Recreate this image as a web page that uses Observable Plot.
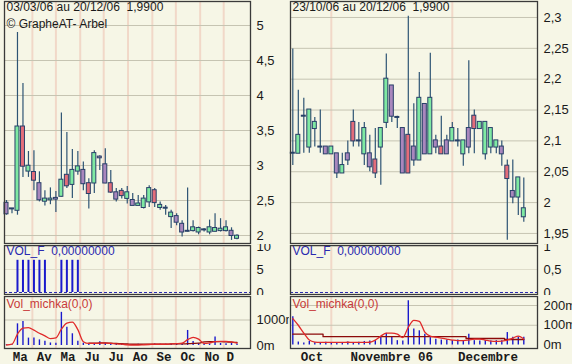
<!DOCTYPE html>
<html><head><meta charset="utf-8">
<script src="https://cdn.jsdelivr.net/npm/d3@7"></script>
<script src="https://cdn.jsdelivr.net/npm/@observablehq/plot@0.6"></script>
<style>
html,body{margin:0;padding:0;background:#f6f6e6;}
#chart{position:relative;width:572px;height:364px;background:#f6f6e6;overflow:hidden;}
</style></head><body><div id="chart"></div>
<script>
// ---------- LEFT: weekly candles 03/03/06 -> 20/12/06 ----------
const leftTitle = "03/03/06 au 20/12/06  1,9900";
const leftCopyright = "\u00A9 GrapheAT- Arbel";
const leftOpen  = [2.46,2.38,2.36,3.55,2.92,2.90,2.74,2.49,2.51,2.53,2.56,2.86,2.73,2.92,2.93,2.74,2.75,3.12,3.01,2.74,2.61,2.63,2.53,2.50,2.43,2.40,2.48,2.64,2.40,2.39,2.27,2.27,2.16,2.06,2.07,2.05,2.08,2.05,2.06,2.07,2.07,2.06,1.96];
const leftHigh  = [2.50,2.38,4.90,4.17,3.20,3.21,2.91,2.64,2.68,2.63,3.75,3.47,3.23,3.20,3.05,2.81,3.21,3.14,3.24,2.93,2.67,2.67,2.70,2.60,2.57,2.57,2.71,2.67,2.48,2.43,2.36,2.31,2.21,2.68,2.21,2.12,2.10,2.22,2.31,2.24,2.21,2.11,2.01];
const leftLow   = [2.29,2.31,2.29,2.83,2.83,2.64,2.48,2.42,2.44,2.33,2.55,2.67,2.53,2.86,2.64,2.38,2.60,2.93,2.74,2.60,2.48,2.52,2.45,2.43,2.43,2.38,2.40,2.40,2.36,2.29,2.10,2.14,1.98,2.05,2.05,2.01,2.05,2.01,2.05,2.05,2.05,1.93,1.94];
const leftClose = [2.31,2.38,3.55,2.99,2.99,2.79,2.51,2.52,2.52,2.52,2.79,2.71,2.93,2.98,2.74,2.60,3.17,3.11,2.75,2.62,2.52,2.57,2.61,2.43,2.45,2.52,2.67,2.47,2.43,2.39,2.32,2.19,2.05,2.06,2.11,2.10,2.08,2.11,2.10,2.09,2.11,2.00,1.99];
const leftKind  = ["p","p","g","r","g","r","p","g","g","p",
                   "g","r","g","g","p","r","g","p","p","r",
                   "p","r","g","p","g","g","g","r","g","g",
                   "g","p","p","g","g","g","g","g","g","g",
                   "g","p","g"];
const leftVolF  = [0,0,7,7,7,7,7,7,0,0,7,7,7,7,0,0,0,0,0,0,0,0,0,0,0,0,0,0,0,0,0,0,0,0,0,0,0,0,0,0,0,0,0];
const leftVol   = [30,30,850,940,290,290,220,170,100,90,1300,720,460,170,90,60,70,150,80,60,50,50,40,40,50,40,40,60,50,50,50,60,60,590,160,70,60,60,330,80,70,80,60];
const leftMichka= [20,50,450,680,700,600,480,380,270,300,640,880,920,620,150,80,80,90,90,80,60,50,30,20,20,30,40,50,50,50,60,70,90,230,320,250,80,100,150,160,160,140,90];
const leftMichkaAvg = [null,null,null,null,null,null,null,null,null,null,null,null,null,null,null,90,90,100,100,90,80,70,60,50,50,50,50,50,50,50,60,60,60,70,80,90,140,150,150,150,140,130,120];
const leftMonthNames = ["Ma","Av","Ma","Ju","Ju","Ao","Se","Oc","No","D"];
const leftPriceTicks = [2,2.5,3,3.5,4,4.5,5];
const leftVolFTicks = [0,5,10];
const leftVolTicks = [0,1000];

// ---------- RIGHT: daily candles 23/10/06 -> 20/12/06 ----------
const rightTitle = "23/10/06 au 20/12/06  1,9900";
const rightOpen  = [2.08,2.08,2.14,2.09,2.12,2.09,2.09,2.079,2.079,2.048,2.079,2.13,2.10,2.079,2.079,2.069,2.09,2.13,2.189,2.138,2.12,2.109,2.09,2.069,2.159,2.079,2.10,2.09,2.10,2.10,2.10,2.079,2.12,2.14,2.12,2.079,2.09,2.09,2.09,2.059,2.018,2.009,1.977];
const rightHigh  = [2.249,2.182,2.169,2.15,2.138,2.15,2.09,2.09,2.079,2.08,2.10,2.15,2.13,2.13,2.109,2.12,2.12,2.241,2.189,2.14,2.12,2.302,2.16,2.211,2.159,2.242,2.109,2.14,2.109,2.13,2.12,2.10,2.23,2.15,2.13,2.13,2.12,2.10,2.10,2.069,2.069,2.04,2.04];
const rightLow   = [2.06,2.08,2.08,2.08,2.09,2.08,2.079,2.079,2.039,2.048,2.06,2.09,2.09,2.06,2.05,2.039,2.028,2.12,2.13,2.12,2.048,2.048,2.059,2.069,2.079,2.079,2.079,2.079,2.079,2.10,2.09,2.059,2.079,2.079,2.12,2.069,2.079,2.079,2.059,1.939,1.998,1.979,1.968];
const rightClose = [2.08,2.109,2.14,2.15,2.13,2.09,2.079,2.09,2.048,2.06,2.069,2.10,2.10,2.12,2.058,2.048,2.12,2.20,2.14,2.138,2.048,2.048,2.069,2.169,2.079,2.169,2.09,2.079,2.079,2.12,2.10,2.10,2.09,2.12,2.13,2.13,2.12,2.10,2.079,2.039,2.009,2.04,1.99];
const rightKind  = ["g","g","g","g","g","g","p","g","p","g",
                    "p","r","g","g","p","r","g","g","p","g",
                    "p","r","p","g","p","g","p","r","p","g",
                    "g","g","p","r","g","g","g","g","p","r",
                    "p","g","g"];
const rightVol   = [143,15,10,18,12,10,14,10,12,8,15,10,14,18,20,22,39,59,39,22,20,224,81,72,54,37,29,25,25,22,25,22,54,22,20,22,20,22,22,63,39,39,39];
const rightMichka= [134,100,60,25,15,13,13,13,13,13,14,13,13,13,14,25,45,60,60,55,38,90,125,120,65,45,40,35,30,25,22,22,25,30,30,25,20,18,20,25,35,45,30];
const rightMichkaAvg = [55,55,55,55,55,55,42,42,42,42,42,42,42,42,42,42,42,42,42,42,42,42,42,42,42,42,42,42,42,42,42,42,33,33,33,33,33,33,33,28,28,28,28];
const rightMonthNames = ["Oct","Novembre 06","Decembre"];
const rightPriceTicks = [1.95,2,2.05,2.1,2.15,2.2,2.25,2.3];
const rightVolFTicks = [0,0.5,1];
const rightVolTicks = [0,100,200];
const volFLabel = "VOL_F  0,00000000";
const michkaLabel = "Vol_michka(0,0)";

// ---------- styling ----------
const SANS = "'Liberation Sans', Arial, sans-serif";
const MONO = "'Liberation Mono', 'Courier New', monospace";
const GRID_H = "#c6c4b2", GRID_V = "#f1d8c8", FRAME = "#3a3a3a";
const WICK = "#2e5474", OUTLINE = "#283f68";
const KIND_COLOR = {g: "#7fe9a2", r: "#e36d7a", p: "#a987bd"};
const BLUE = "#1a1acc", RED = "#e02a2a", DARKRED = "#8c0a0a";
const comma = d => String(d).replace(".", ",");
const chart = document.getElementById("chart");

// ---------- build data ----------
const leftDates = d3.utcMonday.range(new Date(Date.UTC(2006,1,27)), new Date(Date.UTC(2006,11,19)));
const leftData = leftDates.map((date,i) => ({date, open:leftOpen[i], high:leftHigh[i], low:leftLow[i], close:leftClose[i], kind:leftKind[i], volf:leftVolF[i], vol:leftVol[i], m:leftMichka[i], a:leftMichkaAvg[i]}));
const leftLast = leftDates[leftDates.length-1];
const leftMonths = d3.utcMonth.range(new Date(Date.UTC(2006,2,1)), new Date(Date.UTC(2007,0,1)));
const leftMonthLines = leftMonths.slice(1);
const leftMonthLabels = leftMonths.map((m,i) => {
  const next = d3.utcMonth.offset(m,1);
  const end = next < leftLast ? next : leftLast;
  return {date: new Date((+m + +end)/2), name: leftMonthNames[i]};
});
const DAY = 864e5;
const leftXDomain = [new Date(+leftDates[0] - 2.55*DAY), new Date(+leftDates[0] + 311.2*DAY)];

const rightDates = d3.utcDay.range(new Date(Date.UTC(2006,9,23)), new Date(Date.UTC(2006,11,21))).filter(d => d.getUTCDay() % 6 !== 0);
const rightData = rightDates.map((date,i) => ({idx:i, date, open:rightOpen[i], high:rightHigh[i], low:rightLow[i], close:rightClose[i], kind:rightKind[i], vol:rightVol[i], m:rightMichka[i], a:rightMichkaAvg[i]}));
const rightFirsts = [];
rightDates.forEach((d,i) => { if (i===0 || d.getUTCMonth() !== rightDates[i-1].getUTCMonth()) rightFirsts.push(i); });
const rightMonthLines = rightFirsts.slice(1);
const rightMonthLabels = rightFirsts.map((f,j) => ({idx: (f + (j+1 < rightFirsts.length ? rightFirsts[j+1] : rightDates.length-1))/2, name: rightMonthNames[j]}));
const rightXDomain = [-0.42, 44.49];

function candles(data, x) {
  return [
    Plot.ruleX(data, {x, y1: "low", y2: "high", stroke: WICK, strokeWidth: 1.2}),
    Plot.rect(data, {x1: x, x2: x, y1: "open", y2: "close", fill: d => KIND_COLOR[d.kind], stroke: OUTLINE, strokeWidth: 1,
      insetLeft: -2, insetRight: -2, insetTop: -0.5, insetBottom: -0.5})
  ];
}

function panel({left, top, width, height, mL, mR, mT, mB, x, y, marks}) {
  const svg = Plot.plot({
    width, height, marginLeft: mL, marginRight: mR, marginTop: mT, marginBottom: mB,
    x: {...x, axis: null}, y: {...y, axis: null}, color: {type: "identity"},
    style: {position: "absolute", left: left+"px", top: top+"px", background: "transparent", overflow: "hidden",
      fontFamily: SANS, fontSize: "13px", color: "#1a1a1a"},
    marks
  });
  chart.append(svg);
}

function yAxis(ticks, fmt) {
  return Plot.axisY(ticks, {anchor: "right", label: null, tickSize: 0, tickPadding: 6, tickFormat: fmt, fontSize: 13, fill: "#1a1a1a"});
}
function label(text, color, dy) {
  return Plot.text([text], {text: d => d, frameAnchor: "top-left", dx: 2, dy, lineAnchor: "top", fontSize: 12, fill: color, fontFamily: SANS});
}

const cfg = {
  left: {x0: 0, width: 289, mL: 4, mR: 39, x: {type: "utc", domain: leftXDomain}, xk: "date",
    data: leftData, lines: leftMonthLines, labels: leftMonthLabels, lx: "date",
    price: [1.8857, 5.3429], pticks: leftPriceTicks, vf: [-0.435, 10.217], vfticks: leftVolFTicks,
    vol: [-117.6, 1921.6], vticks: leftVolTicks, title: leftTitle},
  right: {x0: 289, width: 283, mL: 1, mR: 35, x: {type: "linear", domain: rightXDomain}, xk: "idx",
    data: rightData, lines: rightMonthLines, labels: rightMonthLabels, lx: "idx",
    price: [1.9337, 2.3259], pticks: rightPriceTicks, vf: [-0.0435, 1.0217], vfticks: rightVolFTicks,
    vol: [-17.7, 245.6], vticks: rightVolTicks, title: rightTitle}
};

for (const side of ["left", "right"]) {
  const c = cfg[side];
  const tdx = side === "left" ? 2 : 2;
  // price panel
  panel({left: c.x0, top: 0, width: c.width, height: 244, mL: c.mL, mR: c.mR, mT: 1, mB: 1, x: c.x, y: {domain: c.price},
    marks: [
      Plot.ruleX(c.lines, {stroke: GRID_V, strokeWidth: 2}),
      Plot.ruleY(c.pticks, {stroke: GRID_H}),
      ...candles(c.data, c.xk),
      label(c.title, "#1a1a1a", 1),
      side === "left" ? label(leftCopyright, "#1a1a1a", 18) : null,
      Plot.frame({stroke: FRAME, strokeWidth: 1.3}),
      yAxis(c.pticks, comma)
    ]});
  // VOL_F panel
  panel({left: c.x0, top: 244, width: c.width, height: 51, mL: c.mL, mR: c.mR, mT: 1, mB: 1, x: c.x, y: {domain: c.vf},
    marks: [
      Plot.ruleX(c.lines, {stroke: GRID_V, strokeWidth: 2}),
      Plot.ruleY(c.vfticks.filter(t => t !== 0), {stroke: "#dedcca"}),
      side === "left" ? Plot.ruleX(c.data.filter(d => d.volf > 0), {x: c.xk, y1: 0, y2: "volf", stroke: BLUE, strokeWidth: 2}) : null,
      Plot.ruleY([0], {stroke: "#2a2ab0", strokeDasharray: "3,2"}),
      label(volFLabel, "#2a2ab0", 1),
      Plot.frame({stroke: FRAME, strokeWidth: 1.3}),
      yAxis(c.vfticks, comma)
    ]});
  // Vol_michka panel
  panel({left: c.x0, top: 295, width: c.width, height: 69, mL: c.mL, mR: c.mR, mT: 1, mB: 16, x: c.x, y: {domain: c.vol},
    marks: [
      Plot.ruleX(c.lines, {stroke: GRID_V, strokeWidth: 2}),
      Plot.ruleY(c.vticks.filter(t => t !== 0), {stroke: GRID_H}),
      Plot.ruleX(c.data, {x: c.xk, y1: 0, y2: "vol", stroke: BLUE, strokeWidth: 1.4}),
      Plot.line(c.data, {x: c.xk, y: "a", stroke: DARKRED, strokeWidth: 1.3, curve: side === "right" ? "step" : "monotone-x"}),
      Plot.line(c.data, {x: c.xk, y: "m", stroke: RED, strokeWidth: 1.3, curve: "monotone-x"}),
      label(michkaLabel, "#c83a3a", 3),
      Plot.frame({stroke: FRAME, strokeWidth: 1.3}),
      yAxis(c.vticks, d => d + "m"),
      Plot.text(c.labels, {x: c.lx, text: "name", frameAnchor: "bottom", dy: 8, lineAnchor: "middle",
        fontFamily: MONO, fontSize: 12.5, fontWeight: "bold", fill: "#1a1a1a"})
    ]});
}
</script></body></html>
